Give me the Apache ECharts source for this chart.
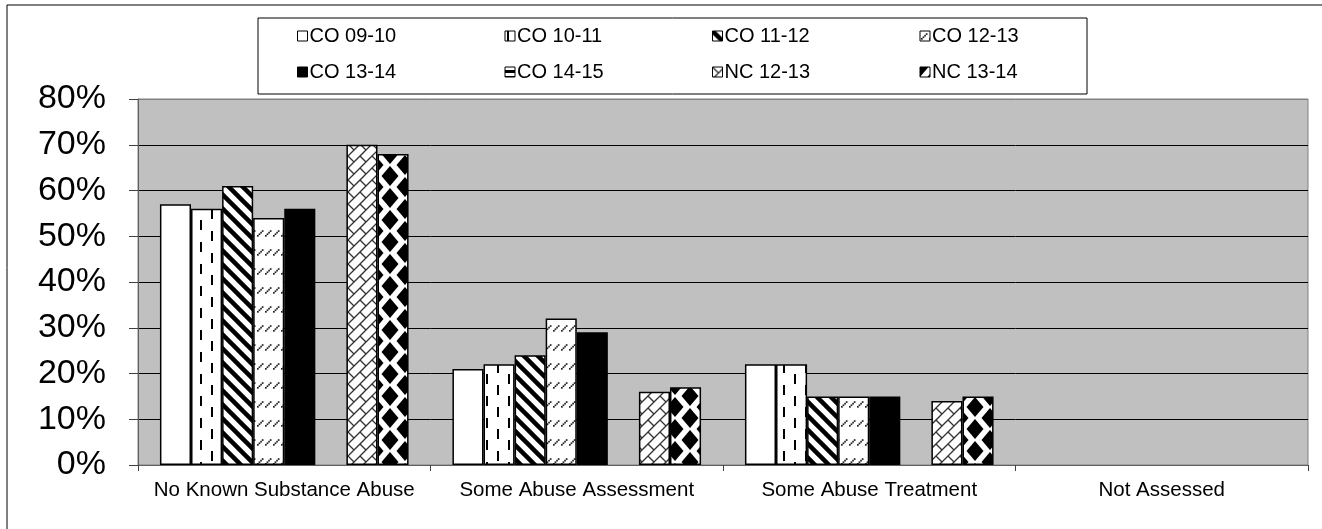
<!DOCTYPE html>
<html>
<head>
<meta charset="utf-8">
<title>Substance abuse</title>
<script src="https://cdn.jsdelivr.net/npm/echarts/dist/echarts.min.js"></script>
<style>
  html, body { margin: 0; padding: 0; background: #fff; }
  #main { width: 1322px; height: 529px; }
</style>
</head>
<body>
<div id="main"></div>
<script>
var categories = ['No Known Substance Abuse', 'Some Abuse Assessment', 'Some Abuse Treatment', 'Not Assessed'];
var seriesNames = ['CO 09-10', 'CO 10-11', 'CO 11-12', 'CO 12-13', 'CO 13-14', 'CO 14-15', 'NC 12-13', 'NC 13-14'];
var co0910 = [57, 21, 22, null];
var co1011 = [56, 22, 22, null];
var co1112 = [61, 24, 15, null];
var co1213 = [54, 32, 15, null];
var co1314 = [56, 29, 15, null];
var co1415 = [null, null, null, null];
var nc1213 = [70, 16, 14, null];
var nc1314 = [68, 17, 15, null];
var yMin = 0, yMax = 80, yStep = 10;

var FONT = '"Liberation Sans", Arial, sans-serif';

// 画填充图案
function tile(w, h, draw) {
  var c = document.createElement('canvas');
  c.width = w;
  c.height = h;
  var g = c.getContext('2d');
  g.fillStyle = '#fff';
  g.fillRect(0, 0, w, h);
  g.fillStyle = '#000';
  g.strokeStyle = '#000';
  draw(g, w, h);
  return { image: c, repeat: 'repeat' };
}

var fills = [
  '#ffffff',
  // vertical dashes
  tile(22, 22, function (g) {
    g.fillRect(2, 0, 2, 10);
    g.fillRect(13, 11, 2, 10);
  }),
  // thick "\" stripes
  tile(14, 14, function (g) {
    g.lineWidth = 4.5;
    for (var k = -1; k <= 1; k++) {
      g.beginPath();
      g.moveTo(k * 14 - 7, -7);
      g.lineTo(k * 14 + 21, 21);
      g.stroke();
    }
  }),
  // small dotted "/" marks
  tile(8, 19, function (g) {
    g.fillStyle = '#222';
    for (var i = 0; i < 4; i++) {
      g.fillRect(1 + i * 1.6, 7 - i * 1.6, 1.7, 1.7);
    }
  }),
  '#000000',
  // horizontal bands (only shown in legend)
  tile(4, 6, function (g) {
    g.fillRect(0, 3, 4, 3);
  }),
  // diagonal brick
  tile(24, 24, function (g) {
    g.strokeStyle = '#333';
    g.lineWidth = 1.3;
    var s, d;
    for (s = -48; s <= 96; s += 12) {
      g.beginPath();
      g.moveTo(s + 24, -24);
      g.lineTo(s - 48, 48);
      g.stroke();
    }
    for (s = -48; s <= 72; s += 12) {
      var off = (Math.abs(s / 12) % 2 === 0) ? 0 : 12;
      for (d = -72 + off; d <= 72; d += 24) {
        g.beginPath();
        g.moveTo((s + d) / 2, (s - d) / 2);
        g.lineTo((s + 12 + d) / 2, (s + 12 - d) / 2);
        g.stroke();
      }
    }
  }),
  // black diamonds
  tile(30, 22, function (g) {
    var pts = [[0, 0], [30, 0], [0, 22], [30, 22], [15, 11]];
    pts.forEach(function (p) {
      g.beginPath();
      g.moveTo(p[0], p[1] - 10);
      g.lineTo(p[0] + 8.5, p[1]);
      g.lineTo(p[0], p[1] + 10);
      g.lineTo(p[0] - 8.5, p[1]);
      g.closePath();
      g.fill();
    });
  })
];

var seriesData = [co0910, co1011, co1112, co1213, co1314, co1415, nc1213, nc1314];

var series = seriesNames.map(function (name, i) {
  return {
    name: name,
    type: 'bar',
    barGap: '0%',
    barCategoryGap: '15%',
    data: seriesData[i].map(function (v) { return v === null ? '-' : v; }),
    itemStyle: {
      color: fills[i],
      borderColor: '#000',
      borderWidth: 1.5
    }
  };
});

var legends = seriesNames.map(function (name, i) {
  return {
    data: [name],
    left: 297 + 207.5 * (i % 4),
    top: i < 4 ? 26 : 62,
    padding: 0,
    icon: 'rect',
    itemWidth: 10,
    itemHeight: 10,
    itemStyle: { borderColor: '#000', borderWidth: 1 },
    textStyle: { fontFamily: FONT, fontSize: 20, color: '#000', lineHeight: 20, padding: [0, 0, 0, -3] },
    selectedMode: false
  };
});

var splitColors = [];
for (var v = yMin; v <= yMax; v += yStep) {
  splitColors.push(v === yMax ? '#808080' : '#000');
}

var chart = echarts.init(document.getElementById('main'));
chart.setOption({
  animation: false,
  backgroundColor: '#fff',
  graphic: [
    {
      type: 'rect',
      left: 4.5, top: 2.5,
      shape: { width: 1340, height: 560 },
      style: { fill: 'none', stroke: '#000', lineWidth: 1 },
      silent: true
    },
    {
      type: 'rect',
      left: 255.5, top: 15.5,
      shape: { width: 829, height: 76 },
      style: { fill: 'none', stroke: '#000', lineWidth: 1 },
      silent: true
    }
  ],
  legend: legends,
  grid: {
    left: 138,
    top: 99,
    right: 14,
    bottom: 64,
    show: true,
    backgroundColor: '#c0c0c0',
    borderColor: '#808080',
    borderWidth: 1,
    containLabel: false
  },
  xAxis: {
    type: 'category',
    data: categories,
    axisLine: { lineStyle: { color: '#606060', width: 1 } },
    axisTick: { show: true, interval: 0, length: 6, lineStyle: { color: '#404040' } },
    axisLabel: {
      interval: 0,
      margin: 15,
      fontFamily: FONT,
      fontSize: 20.5,
      color: '#000'
    },
    splitLine: { show: false }
  },
  yAxis: {
    type: 'value',
    min: yMin,
    max: yMax,
    interval: yStep,
    axisLine: { show: true, lineStyle: { color: '#606060', width: 1 } },
    axisTick: { show: true, length: 9, lineStyle: { color: '#404040' } },
    axisLabel: {
      margin: 32,
      fontFamily: FONT,
      fontSize: 34,
      color: '#000',
      formatter: '{value}%'
    },
    splitLine: { show: true, lineStyle: { color: splitColors, width: 1 } }
  },
  series: series
});
</script>
</body>
</html>
